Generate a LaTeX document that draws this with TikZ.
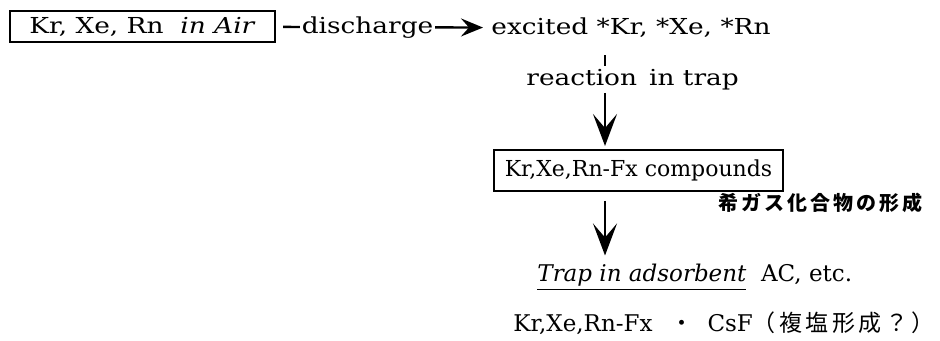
\documentclass[tikz,border=0pt]{standalone}
\usepackage{fontspec}
\setmainfont{DejaVu Serif}
\newfontfamily\wide[FakeStretch=1.2]{DejaVu Serif}
\newfontfamily\cjk[LetterSpace=15]{Noto Sans CJK JP}
\usetikzlibrary{arrows.meta}
\tikzset{
    BX/.style ={rectangle, draw, line width=1pt, inner sep=2pt, font=\fontsize{11}{13}\selectfont},
    TX/.style ={inner sep=1pt, font=\fontsize{11.5}{13}\selectfont},
    WD/.style ={inner sep=1pt, font=\wide\fontsize{11}{13}\selectfont},
    JP/.style ={inner sep=1pt, font=\cjk\bfseries\fontsize{10}{12}\selectfont},
    AR/.style ={line width=1.2pt, -{Stealth[length=16pt,width=12pt,inset=7pt]}},
    AH/.style ={line width=1.2pt, -{Stealth[length=11pt,width=9pt,inset=4pt]}}}

\begin{document}
\begin{tikzpicture}[x=0.5pt,y=-0.5pt]
        \useasboundingbox (0,0) rectangle (940,341);
        \node[BX, WD, inner sep=2pt, minimum width=132.5pt, minimum height=15.5pt] (1) at (142.5,26.5){Kr, Xe, Rn\ \ \textit{in Air}};
        \node[WD, anchor=west] (2) at (489,28){excited *Kr, *Xe, *Rn};
        \node[WD, anchor=west] (3) at (524,80){reaction\hspace{6pt}in trap};
        \node[BX, minimum width=144.5pt, minimum height=20.5pt] (4) at (638.5,170.5){Kr,Xe,Rn-Fx compounds};
        \node[JP, anchor=west] (5) at (716,203){希ガス化合物の形成};
        \node[TX, anchor=west] (6) at (535,277){\underline{\textit{Trap in adsorbent}}\ \ AC, etc.};
        \node[TX, anchor=west] (7) at (511,323){Kr,Xe,Rn-Fx\hspace{9pt}{\cjk ・}\hspace{7pt}CsF{\cjk\fontsize{11.5}{14}\selectfont （複塩形成？）}};
        \coordinate (a) at (605,0);
        \draw[AH, shorten <=3.5pt, shorten >=3pt] (1) -- node[WD, pos=0.43, fill=white]{discharge} (2);
        \draw[line width=1.2pt, shorten <=7.5pt, shorten >=0.5pt] (2.south -| a) -- (3.north -| a);
        \draw[AR, shorten >=1.5pt] (3.south -| a) -- (4.north -| a);
        \draw[AR, shorten <=4.5pt, shorten >=3pt] (4.south -| a) -- (6.north -| a);
    \end{tikzpicture}
\end{document}
